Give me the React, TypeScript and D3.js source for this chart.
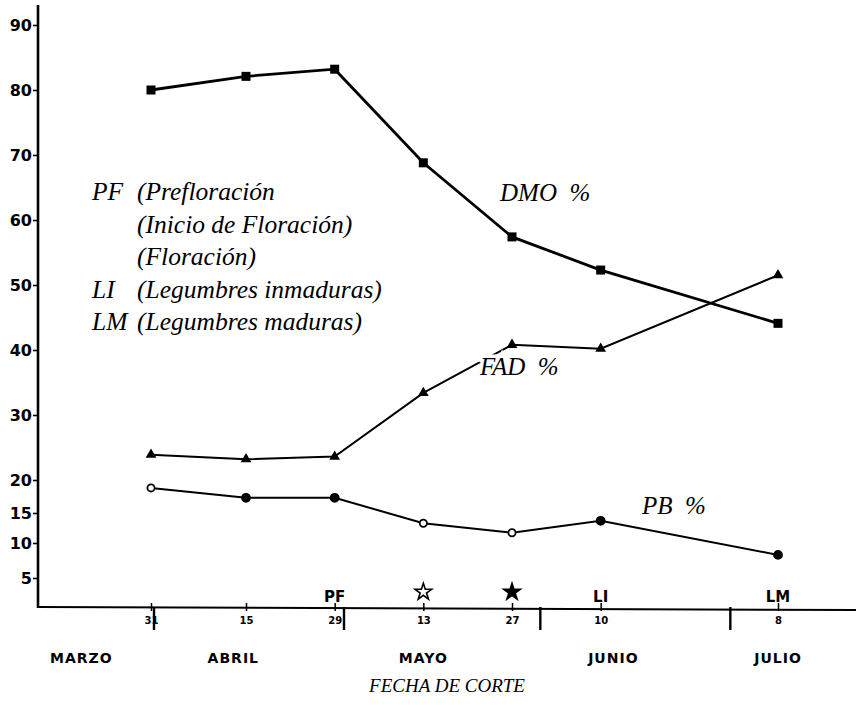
import * as d3 from 'd3';
import React, { useEffect, useRef } from 'react';

// fechas de corte (año arbitrario, sólo se usa día/mes)
const cutDates = ['1985-03-31', '1985-04-15', '1985-04-29', '1985-05-13', '1985-05-27', '1985-06-10', '1985-07-08'];
const dmo = [80, 82.1, 83.2, 68.8, 57.4, 52.3, 44.1];
const fad = [23.9, 23.2, 23.6, 33.4, 40.8, 40.2, 51.5];
const pb = [18.8, 17.3, 17.3, 13.3, 11.7, 13.7, 8.3];
const pbOpen = [true, false, false, true, true, false, false];

const yTicks = [5, 10, 15, 20, 30, 40, 50, 60, 70, 80, 90];

const monthEnds = ['1985-03-31', '1985-04-30', '1985-05-31', '1985-06-30'];
const monthNames = ['MARZO', 'ABRIL', 'MAYO', 'JUNIO', 'JULIO'];
const monthLabelDates = ['1985-03-20', '1985-04-13', '1985-05-13', '1985-06-12', '1985-07-08'];

const stageDates = ['1985-04-29', '1985-05-13', '1985-05-27', '1985-06-10', '1985-07-08'];
const stageLabels = ['PF', 'open', 'filled', 'LI', 'LM'];

const legendAbbr = ['PF', '', '', 'LI', 'LM'];
const legendText = ['(Prefloración', '(Inicio de Floración)', '(Floración)', '(Legumbres inmaduras)', '(Legumbres maduras)'];

const parse = d3.timeParse('%Y-%m-%d');

const x = d3
  .scaleTime()
  .domain([parse('1985-03-31')!, parse('1985-07-08')!])
  .range([151, 778]);

// eje Y no lineal en la parte baja (como el original)
const y = d3.scaleLinear().domain([0, 5, 10, 15, 20, 90]).range([607, 578, 543, 513, 480, 25]);

const sans = 'DejaVu Sans';
const serif = 'Liberation Serif';

const App = () => {
  const yAxisRef = useRef<SVGGElement>(null);
  const xAxisRef = useRef<SVGGElement>(null);

  useEffect(() => {
    document.body.style.margin = '0';
    const gy = d3.select(yAxisRef.current);
    gy.call(d3.axisLeft(y).tickValues(yTicks).tickSize(5).tickPadding(1).tickFormat(d3.format('d')));
    gy.select('.domain').remove();
    gy.selectAll('line').attr('stroke-width', 1.6);
    gy.selectAll('text')
      .attr('font-family', sans)
      .attr('font-weight', 'bold')
      .attr('font-size', 16)
      .attr('fill', '#000');

    const gx = d3.select(xAxisRef.current);
    gx.call(
      d3
        .axisBottom(x)
        .tickValues(cutDates.map((d) => parse(d)!))
        .tickSize(8)
        .tickPadding(6)
        .tickFormat(d3.timeFormat('%-d') as any)
    );
    gx.select('.domain').remove();
    gx.selectAll('line').attr('stroke-width', 1.5);
    gx.selectAll('text')
      .attr('font-family', sans)
      .attr('font-weight', 'bold')
      .attr('font-size', 10)
      .attr('fill', '#000');
  }, []);

  const pts = (vals: number[]) => cutDates.map((d, i) => [x(parse(d)!), y(vals[i])] as [number, number]);
  const line = d3.line();
  const tri = d3.symbol().type(d3.symbolTriangle).size(50);
  const star = d3.symbol().type(d3.symbolStar).size(85);

  const dmoPts = pts(dmo);
  const fadPts = pts(fad);
  const pbPts = pts(pb);

  return (
    <svg width={860} height={705} style={{ display: 'block', background: '#fff' }}>
      {/* ejes */}
      <line x1={38} x2={38} y1={5} y2={608} stroke="#000" strokeWidth={2.6} />
      <line x1={37} x2={856} y1={607} y2={610} stroke="#000" strokeWidth={2} />
      <g ref={yAxisRef} transform="translate(38,0)" />
      <g ref={xAxisRef} transform="translate(0,603)" />

      {monthEnds.map((d) => (
        <line key={d} x1={x(parse(d)!) + 3} x2={x(parse(d)!) + 3} y1={607} y2={630} stroke="#000" strokeWidth={2.4} />
      ))}

      {monthNames.map((m, i) => (
        <text
          key={m}
          x={x(parse(monthLabelDates[i])!)}
          y={663}
          textAnchor="middle"
          fontFamily={sans}
          fontWeight="bold"
          fontSize={14}
          letterSpacing={1}
        >
          {m}
        </text>
      ))}

      {stageDates.map((d, i) => {
        const sx = x(parse(d)!);
        const lab = stageLabels[i];
        if (lab === 'open' || lab === 'filled')
          return (
            <path
              key={d}
              d={star()!}
              transform={`translate(${sx},592)`}
              fill={lab === 'filled' ? '#000' : 'none'}
              stroke="#000"
              strokeWidth={1.6}
            />
          );
        return (
          <text key={d} x={sx} y={602} textAnchor="middle" fontFamily={sans} fontWeight="bold" fontSize={15}>
            {lab}
          </text>
        );
      })}

      <text x={447} y={692} textAnchor="middle" fontFamily={serif} fontStyle="italic" fontSize={19}>
        FECHA DE CORTE
      </text>

      {/* leyenda */}
      {legendText.map((t, i) => (
        <g key={t} fontFamily={serif} fontStyle="italic" fontSize={25.5}>
          <text x={92} y={200 + i * 32.5}>
            {legendAbbr[i]}
          </text>
          <text x={137} y={200 + i * 32.5}>
            {t}
          </text>
        </g>
      ))}

      {/* series */}
      <path d={line(dmoPts)!} fill="none" stroke="#000" strokeWidth={2.8} />
      {dmoPts.map(([px, py], i) => (
        <rect key={i} x={px - 4.5} y={py - 4.5} width={9} height={9} fill="#000" />
      ))}

      <path d={line(fadPts)!} fill="none" stroke="#000" strokeWidth={2} />
      {fadPts.map(([px, py], i) => (
        <path key={i} d={tri()!} transform={`translate(${px},${py})`} fill="#000" />
      ))}

      <path d={line(pbPts)!} fill="none" stroke="#000" strokeWidth={2} />
      {pbPts.map(([px, py], i) => (
        <circle
          key={i}
          cx={px}
          cy={py}
          r={pbOpen[i] ? 3.6 : 4}
          fill={pbOpen[i] ? '#fff' : '#000'}
          stroke="#000"
          strokeWidth={1.8}
        />
      ))}

      <text x={500} y={201} fontFamily={serif} fontStyle="italic" fontSize={25} style={{ whiteSpace: 'pre' }}>
        DMO  %
      </text>
      <text
        x={480}
        y={375}
        fontFamily={serif}
        fontStyle="italic"
        fontSize={25}
        stroke="#fff"
        strokeWidth={7}
        paintOrder="stroke"
        style={{ whiteSpace: 'pre' }}
      >
        FAD  %
      </text>
      <text x={642} y={514} fontFamily={serif} fontStyle="italic" fontSize={25} style={{ whiteSpace: 'pre' }}>
        PB  %
      </text>
    </svg>
  );
};

export default App;
